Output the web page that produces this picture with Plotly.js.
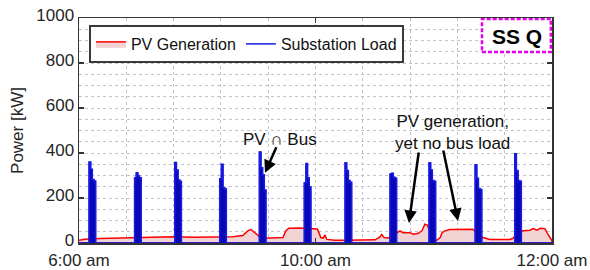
<!DOCTYPE html>
<html>
<head>
<meta charset="utf-8">
<script src="https://cdn.plot.ly/plotly-3.0.1.min.js"></script>
<style>
html,body{margin:0;padding:0;background:#fff;}
#chart{width:590px;height:270px;}
</style>
</head>
<body>
<div id="chart"></div>
<script>
// PV generation (time in hours, kW)
var pvTime = [6.00,6.10,6.36,6.81,7.20,7.59,7.93,8.33,8.60,8.77,8.86,8.91,8.98,9.03,9.08,9.23,9.45,9.50,9.55,9.74,9.91,10.03,10.06,10.09,10.13,10.16,10.19,10.33,10.50,10.75,11.01,11.09,11.12,11.16,11.23,11.31,11.38,11.43,11.48,11.60,11.65,11.73,11.80,11.85,11.89,11.92,12.00,12.05,12.11,12.14,12.19,12.27,12.66,12.75,12.83,12.95,13.29,13.34,13.41,13.51,13.63,13.68,13.75,13.80,13.88,13.93,13.98,14.00];
var pvKW = [12,17,20,24,27,28,26,26,28,33,55,60,45,34,22,22,24,55,66,67,63,62,45,24,22,36,16,12,12,12,14,27,38,24,22,35,46,54,46,46,39,42,54,84,80,60,14,12,24,46,54,60,61,40,24,16,16,21,40,54,57,64,57,66,64,39,16,10];

// Substation load bursts: start time (h) and stepped values (kW)
var loadBurstStart = [6.17,6.94,7.62,8.38,9.05,9.81,10.50,11.26,11.92,12.70,13.37];
var loadBurstKW = [
  [360,328,282,276],
  [290,312,298,290],
  [358,325,280,275],
  [286,350,246,240],
  [405,335,303,236],
  [268,353,290,250],
  [357,322,278,270],
  [307,310,292,288],
  [357,325,278,274],
  [348,288,242,238],
  [397,322,278,274]
];
var loadStep = 0.028;

// Axis ticks
var xTickVals = [6, 10, 14];
var xTickText = ['6:00 am', '10:00 am', '12:00 am'];
var yTickVals = [0, 200, 400, 600, 800, 1000];

// closed PV polygon (area down to zero)
var pvPolyT = pvTime.concat([14, 6]);
var pvPolyY = pvKW.concat([0, 0]);

// assemble load series from bursts
var loadT = [6], loadY = [0];
for (var b = 0; b < loadBurstStart.length; b++) {
  var s = loadBurstStart[b];
  var vals = loadBurstKW[b];
  for (var i = 0; i < vals.length; i++) {
    loadT.push(s + i * loadStep);
    loadY.push(vals[i]);
  }
  loadT.push(s + vals.length * loadStep);
  loadY.push(0);
}
loadT.push(14); loadY.push(0);

var FONT = 'Liberation Sans, Arial, Helvetica, sans-serif';

var traces = [
  {
    x: pvPolyT, y: pvPolyY, type: 'scatter', mode: 'lines',
    name: 'PV Generation',
    line: {color: '#ff0000', width: 1.5},
    fill: 'toself', fillcolor: '#f2d3d3'
  },
  {
    x: loadT, y: loadY, type: 'scatter', mode: 'lines',
    showlegend: false, hoverinfo: 'skip',
    line: {color: '#0808c0', width: 1, shape: 'hv'},
    fill: 'tozeroy', fillcolor: '#0808b4'
  },
  {
    x: loadT, y: loadY, type: 'scatter', mode: 'lines',
    name: 'Substation Load',
    line: {color: '#1a1ae6', width: 1.5, shape: 'hv'}
  }
];

var layout = {
  width: 590, height: 270,
  margin: {l: 79, r: 38, t: 18, b: 27, pad: 0},
  paper_bgcolor: '#ffffff', plot_bgcolor: '#ffffff',
  font: {family: FONT, size: 17, color: '#262626'},
  showlegend: true,
  legend: {
    orientation: 'h', x: 0.021, y: 0.969, xanchor: 'left', yanchor: 'top',
    bgcolor: '#ffffff', bordercolor: '#3a3a3a', borderwidth: 2,
    font: {family: FONT, size: 16, color: '#111'},
    itemwidth: 30, tracegroupgap: 0
  },
  xaxis: {
    range: [6, 14], tickmode: 'array', tickvals: xTickVals, ticktext: xTickText,
    showline: true, linecolor: '#333', linewidth: 1.5, mirror: 'ticks',
    ticks: 'inside', ticklen: 5, tickcolor: '#333', tickwidth: 1.2,
    ticklabelstandoff: 1,
    showgrid: true, gridcolor: '#c4c4c4', griddash: 'dot', gridwidth: 1,
    minor: {tick0: 6, dtick: 0.8, showgrid: true, gridcolor: '#c4c4c4', griddash: 'dot', gridwidth: 1, ticks: ''},
    zeroline: false, fixedrange: true,
    tickfont: {family: FONT, size: 17, color: '#262626'}
  },
  yaxis: {
    range: [0, 1000], tickmode: 'array', tickvals: yTickVals,
    showline: true, linecolor: '#333', linewidth: 1.5, mirror: 'ticks',
    ticks: 'inside', ticklen: 5, tickcolor: '#333', tickwidth: 1.2,
    ticklabelshift: -3,
    showgrid: true, gridcolor: '#c4c4c4', griddash: 'dot', gridwidth: 1,
    minor: {tick0: 0, dtick: 50, showgrid: true, gridcolor: '#c4c4c4', griddash: 'dot', gridwidth: 1, ticks: ''},
    zeroline: false, fixedrange: true,
    tickfont: {family: FONT, size: 17, color: '#262626'},
    title: {text: 'Power [kW]', standoff: 8, font: {family: FONT, size: 17, color: '#262626'}}
  },
  shapes: [
    {type: 'rect', xref: 'x', yref: 'y', x0: 12.816, x1: 13.98, y0: 849, y1: 996,
     line: {color: '#e600e6', width: 2.5, dash: '4px,2px'}, fillcolor: '#ffffff', layer: 'above'}
  ],
  annotations: [
    {x: 13.40, y: 920, xref: 'x', yref: 'y', text: '<b>SS Q</b>', showarrow: false,
     font: {family: FONT, size: 21, color: '#000'}},
    {x: 9.40, y: 462, xref: 'x', yref: 'y', text: 'PV \u2229 Bus', showarrow: false,
     font: {family: FONT, size: 17, color: '#111'}},
    {x: 9.146, y: 312, xref: 'x', yref: 'y', text: '', showarrow: true,
     ax: 12, ay: -27, arrowhead: 2, arrowsize: 1, arrowwidth: 2.5, arrowcolor: '#000'},
    {x: 12.31, y: 493, xref: 'x', yref: 'y', text: 'PV generation,<br>yet no bus load', showarrow: false,
     font: {family: FONT, size: 17, color: '#111'}},
    {x: 11.58, y: 89, xref: 'x', yref: 'y', text: '', showarrow: true,
     ax: 10, ay: -72, arrowhead: 2, arrowsize: 1, arrowwidth: 2.5, arrowcolor: '#000'},
    {x: 12.41, y: 98, xref: 'x', yref: 'y', text: '', showarrow: true,
     ax: -15, ay: -72, arrowhead: 2, arrowsize: 1, arrowwidth: 2.5, arrowcolor: '#000'}
  ]
};

Plotly.newPlot('chart', traces, layout, {staticPlot: true, displayModeBar: false});
</script>
</body>
</html>
